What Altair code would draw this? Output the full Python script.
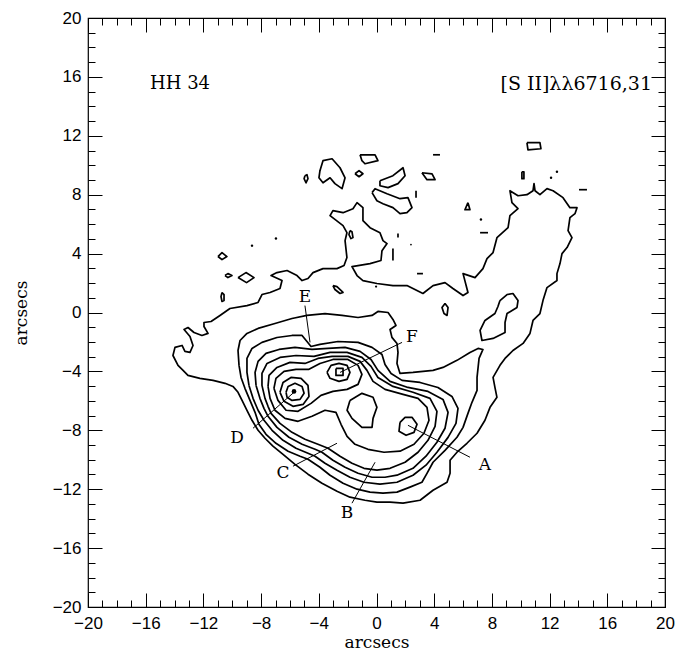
import altair as alt
import pandas as pd

# ---------------- contour lines (arcsec) ----------------
outer = [(-13.41,-3.93),(-13.76,-3.59),(-14.11,-2.92),(-13.97,-2.37),(-13.48,-2.24),(-13.28,-2.64),(-12.93,-2.71),
         (-12.72,-2.24),(-12.93,-1.63),(-13.34,-1.15),(-13.07,-1.02),(-12.65,-1.36),(-12.10,-1.56),(-11.68,-1.42),
         (-11.96,-0.95),(-11.96,-0.68),(-11.47,-0.61),(-10.85,-0.20),(-10.16,0.27),(-8.98,0.47),(-8.21,0.68),
         (-7.94,1.22),(-7.38,1.36),(-6.69,1.63),(-6.55,2.17),(-7.31,2.51),(-6.90,2.71),(-6.20,2.85),(-5.51,2.51),
         (-5.16,2.17),(-4.75,2.31),(-4.40,2.71),(-3.71,2.98),(-2.74,2.98),(-2.25,3.19),(-2.05,3.73),(-2.18,4.88),
         (-2.05,5.42),(-2.32,5.90),(-3.22,6.58),(-3.02,6.92),(-2.32,6.78),(-1.63,7.05),(-1.35,7.46),(-0.94,7.12),
         (-0.94,6.24),(-0.45,5.76),(0.24,5.42),(0.45,4.88),(0.73,4.68),(0.38,4.20),(0.31,3.53),(-0.45,3.32),
         (-1.70,3.12),(-1.35,2.51),(-0.94,2.17),(0.03,1.97),(1.14,1.83),(2.11,1.83),(3.22,1.29),(3.92,1.83),
         (4.75,2.03),(5.30,1.63),(6.00,1.15),(6.34,1.36),(6.00,2.64),(6.83,2.37),(7.38,2.98),(7.66,3.66),
         (8.08,4.07),(8.35,5.08),(9.12,5.76),(9.25,6.58),(9.81,7.05),(9.39,7.46),(9.25,8.27),(9.81,7.93),
         (10.43,8.00),(10.85,8.27),(10.92,8.75),(10.99,8.27),(11.33,8.00),(11.82,8.41),(12.24,8.27),(12.93,7.80),
         (13.41,7.12),(13.90,7.12),(13.76,6.71),(13.41,6.44),(13.28,5.56),(13.55,5.08),(13.21,4.41),(12.86,4.00),
         (12.72,3.32),(12.51,2.64),(12.51,2.17),(11.82,1.69),(11.54,0.81),(11.33,-0.07),(10.85,-0.54),(10.64,-1.42),
         (10.16,-2.10),(9.46,-2.58),(8.91,-3.12),(8.56,-3.59),(8.08,-4.41),(8.21,-5.08),(8.35,-5.76),(7.87,-6.44),
         (7.52,-7.32),(6.97,-8.20),(6.27,-8.88),(5.58,-9.49),(5.10,-10.03),(5.10,-10.92),(4.89,-11.53),(3.92,-12.07),
         (3.02,-12.75),(1.84,-12.95),(0.94,-12.88),(0.03,-12.88),(-0.80,-12.75),(-1.84,-12.54),(-2.74,-12.14),
         (-3.78,-11.59),(-4.75,-10.98),(-5.65,-10.31),(-6.48,-9.63),(-7.18,-9.08),(-7.73,-8.54),(-8.21,-8.00),
         (-8.63,-7.32),(-8.98,-6.64),(-9.32,-5.97),(-9.60,-5.42),(-9.95,-5.02),(-10.50,-4.81),(-11.33,-4.61),
         (-12.24,-4.47),(-13.07,-4.27)]

body = [(-9.53,-3.59),(-9.60,-2.58),(-9.46,-1.90),(-8.98,-1.42),(-8.21,-1.08),(-7.04,-0.75),(-5.86,-0.41),
        (-4.82,-0.20),(-3.57,-0.07),(-2.39,-0.20),(-1.28,-0.34),(-0.31,-0.20),(0.10,0.07),(0.80,0.00),(1.14,-0.47),
        (1.35,-0.88),(0.94,-1.15),(1.07,-1.69),(1.42,-2.10),(1.49,-2.71),(1.42,-3.46),(1.63,-4.14),(2.53,-4.07),
        (3.92,-3.93),(4.61,-3.73),(5.58,-3.25),(6.48,-2.71),(7.04,-2.44),(7.38,-2.51),(7.11,-3.12),(6.97,-4.41),
        (6.97,-5.29),(6.62,-6.10),(6.34,-6.85),(6.00,-7.80),(5.58,-8.47),(4.75,-9.36),(3.92,-10.17),(3.50,-10.92),
        (3.15,-11.53),(2.32,-11.86),(1.42,-12.20),(0.45,-12.27),(-0.45,-12.20),(-1.35,-12.00),(-2.32,-11.59),
        (-3.22,-11.05),(-3.92,-10.51),(-4.75,-9.97),(-5.30,-9.76),(-6.13,-9.42),(-6.97,-8.88),(-7.66,-8.27),
        (-8.15,-7.59),(-8.42,-6.78),(-8.77,-5.97),(-9.12,-5.15),(-9.39,-4.41)]

level3 = [(-8.84,-4.95),(-8.98,-4.07),(-8.98,-3.12),(-8.63,-2.44),(-7.94,-2.03),(-6.90,-1.70),(-5.86,-1.56),
          (-5.16,-1.56),(-4.82,-1.97),(-4.54,-2.31),(-3.92,-2.17),(-2.67,-1.97),(-1.28,-2.03),(-0.31,-2.37),
          (0.38,-2.85),(0.59,-3.53),(1.01,-4.14),(1.77,-4.61),(3.02,-4.75),(4.26,-5.09),(5.23,-5.70),(5.65,-6.51),
          (5.51,-7.53),(4.96,-8.48),(4.19,-9.49),(3.43,-10.37),(2.53,-11.05),(1.42,-11.53),(0.24,-11.66),
          (-0.87,-11.53),(-1.84,-11.19),(-2.74,-10.71),(-3.57,-10.24),(-4.26,-9.76),(-4.75,-9.56),(-5.58,-9.22),
          (-6.48,-8.68),(-7.24,-8.00),(-7.80,-7.32),(-8.21,-6.64),(-8.56,-5.83)]

level4 = [(-8.35,-4.95),(-8.42,-4.07),(-8.21,-3.32),(-7.66,-2.78),(-6.76,-2.51),(-5.65,-2.37),(-4.47,-2.51),
          (-3.36,-2.44),(-2.18,-2.37),(-1.14,-2.64),(-0.38,-3.19),(0.10,-3.93),(0.94,-4.68),(2.18,-5.09),
          (3.57,-5.36),(4.61,-5.90),(4.96,-6.78),(4.75,-7.86),(4.19,-8.81),(3.43,-9.76),(2.53,-10.58),(1.42,-11.05),
          (0.59,-11.19),(-0.31,-11.19),(-1.28,-10.92),(-2.18,-10.51),(-3.02,-10.03),(-3.78,-9.49),(-4.26,-9.29),
          (-5.16,-8.95),(-6.07,-8.47),(-6.90,-7.80),(-7.52,-7.05),(-7.80,-6.51),(-8.08,-5.83)]

level5 = [(-7.94,-4.95),(-7.94,-4.14),(-7.59,-3.46),(-6.69,-3.05),(-5.58,-2.92),(-4.33,-2.98),(-3.22,-2.71),
          (-2.04,-2.71),(-1.01,-3.05),(-0.38,-3.66),(0.10,-4.41),(1.14,-5.02),(2.53,-5.42),(3.71,-5.83),
          (4.19,-6.71),(4.06,-7.73),(3.57,-8.68),(2.88,-9.49),(1.98,-10.17),(0.94,-10.58),(0.03,-10.71),
          (-0.87,-10.58),(-1.70,-10.24),(-2.53,-9.76),(-3.36,-9.22),(-4.06,-8.95),(-4.96,-8.61),(-5.86,-8.14),
          (-6.69,-7.53),(-7.31,-6.85),(-7.52,-6.37),(-7.73,-5.83)]

level6 = [(-7.52,-5.02),(-7.45,-4.27),(-6.90,-3.73),(-6.00,-3.39),(-4.96,-3.46),(-4.06,-3.12),(-3.08,-2.98),
          (-1.98,-2.98),(-1.14,-3.32),(-0.66,-3.93),(-0.24,-4.68),(0.59,-5.22),(1.84,-5.56),(2.88,-5.83),
          (3.50,-6.44),(3.64,-7.32),(3.29,-8.20),(2.60,-8.95),(1.63,-9.42),(0.52,-9.49),(-0.59,-9.29),
          (-1.49,-8.95),(-2.04,-8.41),(-2.46,-7.59),(-2.81,-6.78),(-3.57,-6.64),(-4.47,-7.05),(-5.44,-7.39),
          (-6.34,-7.19),(-7.04,-6.64),(-7.38,-5.83)]

peanut = [(-7.11,-5.15),(-6.97,-4.47),(-6.41,-4.00),(-5.58,-3.86),(-4.68,-3.86),(-3.92,-3.46),(-3.02,-3.19),
          (-1.98,-3.19),(-1.28,-3.59),(-1.01,-4.20),(-1.28,-4.88),(-2.04,-5.22),(-3.02,-5.36),(-3.85,-5.63),
          (-4.54,-6.17),(-5.44,-6.71),(-6.27,-6.64),(-6.83,-5.97)]

f_ring = [(-3.43,-4.07),(-3.15,-3.59),(-2.60,-3.46),(-2.04,-3.59),(-1.84,-4.07),(-2.04,-4.54),(-2.60,-4.68),(-3.22,-4.47)]
f_core = [(-2.81,-3.80),(-2.32,-3.80),(-2.32,-4.27),(-2.81,-4.27)]
d_ring1 = [(-6.69,-5.42),(-6.48,-4.75),(-5.93,-4.41),(-5.23,-4.47),(-4.75,-4.95),(-4.68,-5.70),(-5.09,-6.24),
           (-5.79,-6.37),(-6.41,-6.03)]
d_ring2 = [(-6.27,-5.42),(-6.13,-5.02),(-5.65,-4.81),(-5.16,-5.02),(-5.02,-5.49),(-5.30,-5.90),(-5.86,-5.97),(-6.20,-5.76)]
center_knot = [(-1.84,-5.97),(-1.01,-5.49),(-0.24,-5.76),(0.03,-6.44),(-0.24,-7.19),(-0.31,-7.80),(-1.01,-7.80),
               (-1.70,-7.19),(-2.04,-6.64)]
a_knot = [(1.63,-7.46),(1.98,-7.12),(2.46,-7.12),(2.81,-7.59),(2.60,-8.14),(2.05,-8.34),(1.56,-8.07)]
tongue = [(8.56,0.81),(9.05,1.22),(9.46,1.29),(9.81,0.81),(9.74,0.34),(9.05,-0.07),(8.91,-0.68),(8.91,-1.36),
          (8.08,-1.76),(7.31,-1.90),(7.18,-1.22),(7.52,-0.54),(8.21,-0.07),(8.42,0.41)]

# small closed islands of the lowest level
islands = [
    [(10.43,11.53),(11.33,11.53),(11.40,11.12),(10.50,11.05)],
    [(10.08,9.56),(10.22,9.56),(10.22,9.09),(10.08,9.09)],
    [(-1.14,10.71),(-0.10,10.71),(0.10,10.31),(-0.80,10.10),(-1.01,10.31)],
    [(-3.92,9.63),(-3.71,10.31),(-3.08,10.44),(-2.53,9.83),(-2.18,9.15),(-2.39,8.41),(-2.88,8.75),(-3.22,9.15),
     (-3.71,8.81),(-3.99,9.15)],
    [(-1.49,9.42),(-1.21,9.63),(-0.94,9.42),(-1.21,9.22)],
    [(-4.96,9.29),(-4.82,9.36),(-4.75,9.09),(-4.89,8.81),(-5.02,9.09)],
    [(0.24,8.95),(1.14,9.29),(1.84,9.83),(1.98,9.29),(1.49,8.75),(0.80,8.48),(0.24,8.61)],
    [(3.15,9.49),(3.85,9.42),(4.06,9.02),(3.50,9.02)],
    [(-0.31,8.14),(-0.10,8.41),(0.73,8.07),(1.63,7.73),(2.18,7.80),(2.46,7.12),(2.11,6.78),(1.63,6.71),
     (1.14,7.12),(0.45,7.39),(0.03,7.59)],
    [(6.34,7.46),(6.48,6.98),(6.13,6.98)],
    [(-1.84,5.56),(-1.70,5.49),(-1.63,5.09),(-1.77,5.02),(-1.91,5.29)],
    [(-10.99,3.80),(-10.71,4.07),(-10.37,3.80),(-10.71,3.59)],
    [(-10.50,2.51),(-10.30,2.64),(-10.02,2.51),(-10.30,2.37)],
    [(-9.60,2.37),(-9.05,2.71),(-8.49,2.37),(-9.01,2.03)],
    [(-10.71,1.36),(-10.57,1.22),(-10.57,0.81),(-10.71,0.75),(-10.78,1.08)],
    [(-3.02,1.83),(-2.74,1.76),(-2.32,1.36),(-2.53,1.29),(-2.88,1.56)],
    [(4.75,0.61),(4.96,0.34),(4.89,-0.20),(4.68,-0.07),(4.54,0.34)],
]
# tiny open dashes
dashes = [
    [(14.04,8.34),(14.59,8.34)],
    [(3.92,10.71),(4.40,10.71)],
    [(2.74,8.27),(2.74,7.80)],
    [(7.18,5.42),(7.73,5.42)],
    [(1.49,5.36),(1.49,5.09)],
    [(1.14,4.34),(1.14,3.53)],
    [(2.81,2.64),(3.22,2.64)],
]
dot_x = [12.51, 12.10, 7.24, 2.39, -8.63, -6.97, -0.03, -5.72]
dot_y = [9.56, 9.15, 6.31, 4.61, 4.54, 5.02, 1.76, -5.36]
dot_s = [6, 6, 6, 3, 6, 6, 5, 22]

# knot labels and pointer lines
knot = ["A", "B", "C", "D", "E", "F"]
lab_x = [7.52, -2.05, -6.48, -9.67, -4.96, 2.46]
lab_y = [-10.37, -13.63, -10.92, -8.54, 1.08, -1.69]
ptr_x1 = [6.48, -1.70, -5.79, -8.56, -4.96, 1.77]
ptr_y1 = [-9.83, -12.95, -10.44, -7.86, 0.47, -2.03]
ptr_x2 = [2.18, -0.10, -2.74, -5.72, -4.61, -2.53]
ptr_y2 = [-7.66, -10.17, -8.88, -5.42, -2.03, -4.07]

major_ticks = list(range(-20, 21, 4))
minor_ticks = list(range(-20, 21, 1))

# ---------------- build tables ----------------
rows = []
def add(cid, pts, closed=True):
    seq = list(pts) + ([pts[0]] if closed else [])
    for i, (x, y) in enumerate(seq):
        rows.append({"cid": cid, "i": i, "x": x, "y": y})

for name, pts in [("outer", outer), ("body", body), ("l3", level3), ("l4", level4), ("l5", level5),
                  ("l6", level6), ("peanut", peanut), ("fring", f_ring), ("fcore", f_core),
                  ("dring1", d_ring1), ("dring2", d_ring2), ("center", center_knot), ("aknot", a_knot),
                  ("tongue", tongue)]:
    add(name, pts)
for k, pts in enumerate(islands):
    add(f"isl{k}", pts)
for k, pts in enumerate(dashes):
    add(f"dash{k}", pts, closed=False)
cdf = pd.DataFrame(rows)

dots_df = pd.DataFrame({"x": dot_x, "y": dot_y, "s": dot_s})
ptr_df = pd.DataFrame({"k": knot, "x": ptr_x1, "y": ptr_y1, "x2": ptr_x2, "y2": ptr_y2})
lab_df = pd.DataFrame({"k": knot, "x": lab_x, "y": lab_y})

sx = alt.Scale(domain=[-20, 20], nice=False, zero=False)
sy = alt.Scale(domain=[-20, 20], nice=False, zero=False)

TICK_FONT = "Liberation Sans"
SERIF = "DejaVu Serif"

def make_axis(orient, vals, size, labels, title=None, title_pad=0, label_pad=6):
    kw = dict(orient=orient, values=vals, tickSize=size, offset=-size, domain=False, grid=False,
              ticks=True, tickColor="black", tickWidth=1, labels=labels)
    if labels:
        kw.update(labelFont=TICK_FONT, labelFontSize=17, labelColor="black", labelPadding=label_pad,
                  labelFlush=False, labelOverlap=False, format="d")
    if title:
        kw.update(title=title, titleFont=SERIF, titleFontSize=17, titleFontWeight="normal",
                  titleColor="black", titlePadding=title_pad)
    else:
        kw.update(title=None)
    return alt.Axis(**kw)

contours = alt.Chart(cdf).mark_line(color="black", strokeWidth=1.7, strokeJoin="round").encode(
    x=alt.X("x:Q", scale=sx, axis=make_axis("bottom", major_ticks, 14, True, "arcsecs", 3, 8)),
    y=alt.Y("y:Q", scale=sy, axis=make_axis("left", major_ticks, 14, True, "arcsecs", 22, 7)),
    detail="cid:N",
    order="i:Q",
)

dots = alt.Chart(dots_df).mark_circle(color="black", opacity=1).encode(
    x=alt.X("x:Q", scale=sx, axis=make_axis("top", major_ticks, 14, False)),
    y=alt.Y("y:Q", scale=sy, axis=make_axis("right", major_ticks, 14, False)),
    size=alt.Size("s:Q", scale=None, legend=None),
)

pointers = alt.Chart(ptr_df).mark_rule(color="black", strokeWidth=1).encode(
    x=alt.X("x:Q", scale=sx, axis=make_axis("bottom", minor_ticks, 7, False)),
    y=alt.Y("y:Q", scale=sy, axis=make_axis("left", minor_ticks, 7, False)),
    x2="x2:Q",
    y2="y2:Q",
)

labels = alt.Chart(lab_df).mark_text(font=SERIF, fontSize=17, color="black", align="center",
                                     baseline="middle").encode(
    x=alt.X("x:Q", scale=sx, axis=make_axis("top", minor_ticks, 7, False)),
    y=alt.Y("y:Q", scale=sy, axis=make_axis("right", minor_ticks, 7, False)),
    text="k:N",
)

obj_df = pd.DataFrame({"x": [-15.7], "y": [15.55], "t": ["HH 34"]})
line_df = pd.DataFrame({"x": [19.1], "y": [15.55], "t": ["[S II]λλ6716,31"]})

obj_txt = alt.Chart(obj_df).mark_text(font=SERIF, fontSize=18, color="black", align="left",
                                      baseline="middle").encode(
    x=alt.X("x:Q", scale=sx, axis=None), y=alt.Y("y:Q", scale=sy, axis=None), text="t:N")
line_txt = alt.Chart(line_df).mark_text(font=SERIF, fontSize=19, color="black", align="right",
                                        baseline="middle").encode(
    x=alt.X("x:Q", scale=sx, axis=None), y=alt.Y("y:Q", scale=sy, axis=None), text="t:N")

chart = alt.layer(contours, dots, pointers, labels, obj_txt, line_txt).resolve_axis(
    x="independent", y="independent"
).properties(
    width=577, height=589,
    autosize=alt.AutoSizeParams(type="none"),
    padding={"left": 88, "top": 18, "right": 18, "bottom": 46},
    background="white",
).configure_view(stroke="black", strokeWidth=1.2)

chart.save("out.html", embed_options={"renderer": "svg", "actions": False})
